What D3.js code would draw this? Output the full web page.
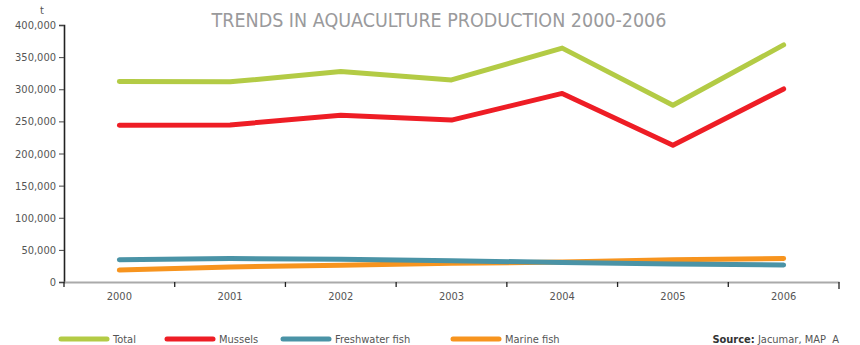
<!DOCTYPE html>
<html>
<head>
<meta charset="utf-8">
<script src="https://d3js.org/d3.v7.min.js"></script>
<style>
  body { margin: 0; background: #fff; }
  svg text { font-family: "DejaVu Sans Condensed", "Liberation Sans Narrow", Roboto, sans-serif; fill: #555; }
  .title { font-size: 19.5px; fill: #9a9a9c; }
  .tick text { font-size: 11px; fill: #555; }
  .legend text { font-size: 11px; fill: #555; }
</style>
</head>
<body>
<svg id="chart" width="860" height="345"></svg>
<script>
// data
var years = ["2000", "2001", "2002", "2003", "2004", "2005", "2006"];
var total = [312000, 311500, 327500, 314500, 364000, 275000, 369000];
var mussels = [244000, 244500, 259500, 252000, 293500, 213000, 300500];
var freshwater = [34500, 36500, 35500, 33000, 30500, 28000, 26500];
var marine = [18500, 23500, 26000, 29000, 31000, 34500, 36500];
var yTicks = [0, 50000, 100000, 150000, 200000, 250000, 300000, 350000, 400000];

var seriesNames = ["Total", "Mussels", "Freshwater fish", "Marine fish"];
var seriesColors = ["#b3cb45", "#ee1d25", "#4a93a6", "#f7941e"];
var seriesValues = [total, mussels, freshwater, marine];

var svg = d3.select("#chart");
var mLeft = 64, mRight = 839, mTop = 25, mBottom = 282;

var x = d3.scaleBand().domain(years).range([mLeft, mRight]);
var y = d3.scaleLinear().domain([0, 400000]).range([mBottom, mTop]);

svg.append("text")
  .attr("class", "title")
  .attr("x", 439)
  .attr("y", 27)
  .attr("text-anchor", "middle")
  .text("TRENDS IN AQUACULTURE PRODUCTION 2000-2006");

// y axis
var yAxis = svg.append("g")
  .attr("transform", "translate(" + mLeft + ",0)")
  .call(d3.axisLeft(y).tickValues(yTicks).tickSize(5).tickPadding(3)
    .tickFormat(d3.format(",")));
yAxis.select(".domain").attr("stroke", "#222").attr("stroke-width", 1.6);
yAxis.selectAll(".tick line").attr("stroke", "#444");

svg.append("text")
  .attr("x", 42)
  .attr("y", 14)
  .attr("text-anchor", "middle")
  .style("font-size", "11px")
  .text("t");

// x axis: ticks at band edges, labels at band centres
var xAxis = svg.append("g")
  .attr("transform", "translate(0," + mBottom + ")")
  .call(d3.axisBottom(x).tickSize(0).tickPadding(10));
xAxis.select(".domain").attr("stroke", "#aaa").attr("stroke-width", 1.8);
xAxis.selectAll(".tick line").remove();

var edges = years.map(function (d) { return x(d); }).concat([mRight]);
xAxis.selectAll(".edge")
  .data(edges)
  .enter()
  .append("line")
  .attr("class", "edge")
  .attr("x1", function (d) { return d; })
  .attr("x2", function (d) { return d; })
  .attr("y1", 0)
  .attr("y2", function (d, i) { return i == edges.length - 1 ? 7 : 5; })
  .attr("stroke", "#222")
  .attr("stroke-width", 1.3);

// lines
var line = d3.line()
  .x(function (d, i) { return x(years[i]) + x.bandwidth() / 2; })
  .y(function (d) { return y(d); });

// marine drawn under freshwater, as in the original
[0, 1, 3, 2].forEach(function (k) {
  svg.append("path")
    .datum(seriesValues[k])
    .attr("d", line)
    .attr("fill", "none")
    .attr("stroke", seriesColors[k])
    .attr("stroke-width", 5)
    .attr("stroke-linecap", "round")
    .attr("stroke-linejoin", "round");
});

// legend
var legX = [61, 167, 283, 453];
var legend = svg.append("g").attr("class", "legend");
seriesNames.forEach(function (name, i) {
  legend.append("line")
    .attr("x1", legX[i]).attr("x2", legX[i] + 46)
    .attr("y1", 339).attr("y2", 339)
    .attr("stroke", seriesColors[i])
    .attr("stroke-width", 5)
    .attr("stroke-linecap", "round");
  legend.append("text")
    .attr("x", legX[i] + 52)
    .attr("y", 343)
    .text(name);
});

var src = legend.append("text")
  .attr("x", 839)
  .attr("y", 343)
  .attr("text-anchor", "end");
src.append("tspan").style("font-weight", "bold").style("fill", "#333").text("Source:");
src.append("tspan").text(" Jacumar, MAP\u00a0\u00a0A");
</script>
</body>
</html>
